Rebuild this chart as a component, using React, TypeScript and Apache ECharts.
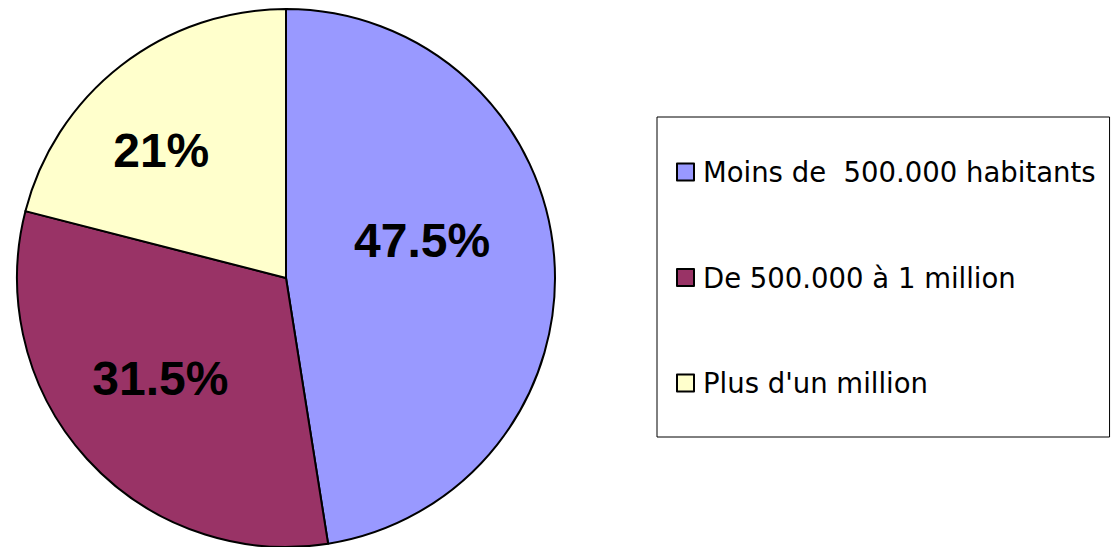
import React, { useEffect, useRef } from "react";
import * as echarts from "echarts";

const categories = ["Moins de  500.000 habitants", "De 500.000 à 1 million", "Plus d'un million"];
const values = [47.5, 31.5, 21];
const colors = ["#9999FF", "#993366", "#FFFFCC"];
// label nudges (dx, dy) from the default inside position, to match the reference
const labelNudges = [
  [-1, -27],
  [-24, 7.5],
  [-40.5, -18.7],
];

export default function App() {
  const ref = useRef<HTMLDivElement>(null);
  useEffect(() => {
    if (!ref.current) return;
    const chart = echarts.init(ref.current, undefined, { renderer: "svg" });
    const font = "'Liberation Sans', Arial, sans-serif";
    const legendFont = "'DejaVu Sans', 'Liberation Sans', sans-serif";
    chart.setOption({
      animation: false,
      backgroundColor: "#ffffff",
      textStyle: { fontFamily: font },
      legend: {
        orient: "vertical",
        left: 657,
        top: 117,
        padding: [41, 14, 40, 19],
        itemGap: 77.5,
        itemWidth: 17,
        itemHeight: 17,
        borderColor: "#000",
        borderWidth: 1,
        icon: "rect",
        itemStyle: { borderColor: "#000", borderWidth: 2 },
        textStyle: { fontFamily: legendFont, fontSize: 27.5, color: "#000", padding: [0, 0, 0, 4] },
        data: categories,
      },
      series: [
        {
          type: "pie",
          center: [286, 278],
          radius: 269,
          startAngle: 90,
          clockwise: true,
          avoidLabelOverlap: false,
          itemStyle: { borderColor: "#000", borderWidth: 2 },
          emphasis: { disabled: true },
          label: {
            show: true,
            position: "inside",
            fontFamily: font,
            fontSize: 48,
            fontWeight: "bold",
            color: "#000",
            formatter: (p: any) => `${p.value}%`,
          },
          labelLine: { show: false },
          labelLayout: (params: any) => {
            const n = labelNudges[params.dataIndex] || [0, 0];
            return { dx: n[0], dy: n[1] };
          },
          data: categories.map((name, i) => ({
            name,
            value: values[i],
            itemStyle: { color: colors[i] },
          })),
        },
      ],
    });
    return () => chart.dispose();
  }, []);
  return (
    <div
      ref={ref}
      style={{ position: "fixed", left: 0, top: 0, width: 1111, height: 547 }}
    />
  );
}
